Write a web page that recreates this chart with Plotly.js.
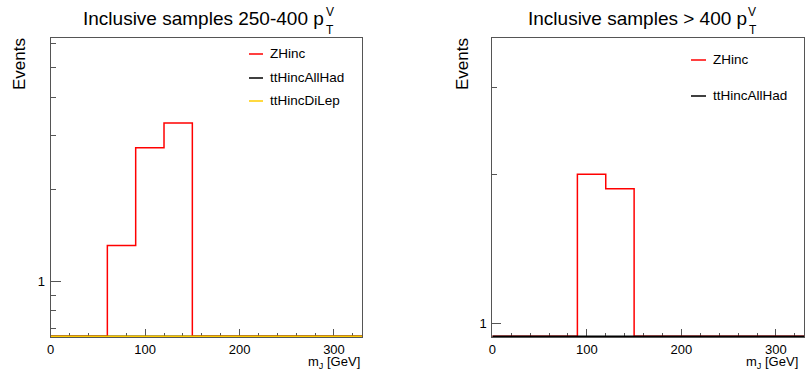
<!DOCTYPE html>
<html>
<head>
<meta charset="utf-8">
<script src="https://cdn.plot.ly/plotly-3.0.1.min.js"></script>
<style>html,body{margin:0;padding:0;background:#fff;}#chart{width:807px;height:376px;}</style>
</head>
<body>
<div id="chart"></div>
<script>
// ---- data ----
const binEdges = [0, 30, 60, 90, 120, 150, 180, 210, 240, 270, 300, 330];
const leftZHinc        = [0, 0, 1.31, 2.73, 3.29, 0, 0, 0, 0, 0, 0];
const leftTtHincAllHad = [0, 0, 0, 0, 0, 0, 0, 0, 0, 0, 0];
const leftTtHincDiLep  = [0, 0, 0, 0, 0, 0, 0, 0, 0, 0, 0];
const rightZHinc        = [0, 0, 0, 2.0, 1.87, 0, 0, 0, 0, 0, 0];
const rightTtHincAllHad = [0, 0, 0, 0, 0, 0, 0, 0, 0, 0, 0];
const leftNames  = ["ZHinc", "ttHincAllHad", "ttHincDiLep"];
const rightNames = ["ZHinc", "ttHincAllHad"];
const leftTitle  = "Inclusive samples 250-400 p";
const rightTitle = "Inclusive samples > 400 p";
const xTickVals = [0, 100, 200, 300];

// ---- style ----
const W = 807, H = 376;
const colors = {ZHinc: "#ff0000", ttHincAllHad: "#000000", ttHincDiLep: "#ffcc00"};
const font = "Liberation Sans, Arial, Helvetica, sans-serif";
const frameColor = "#555555";
const plotTop = 38.3, plotBottom = 337;
const leftRange = [-0.182, 0.794];
const rightRange = [-0.0283, 0.576];
const px = v => v / W, py = v => 1 - v / H;

// zero bins are drawn along the bottom edge of the frame (inside it)
function hist(counts, name, xa, ya, range) {
  const perPx = (range[1] - range[0]) / (plotBottom - plotTop);
  const floor = Math.pow(10, range[0] + 0.8 * perPx);
  const y = counts.map(v => v > 0 ? v : floor);
  y.push(y[y.length - 1]);
  return {x: binEdges, y: y, type: "scatter", mode: "lines", name: name,
    line: {shape: "hv", color: colors[name], width: 1.5},
    xaxis: xa, yaxis: ya, showlegend: false, hoverinfo: "skip"};
}

const traces = [
  hist(leftZHinc, "ZHinc", "x", "y", leftRange),
  hist(leftTtHincAllHad, "ttHincAllHad", "x", "y", leftRange),
  hist(leftTtHincDiLep, "ttHincDiLep", "x", "y", leftRange),
  hist(rightZHinc, "ZHinc", "x2", "y2", rightRange),
  hist(rightTtHincAllHad, "ttHincAllHad", "x2", "y2", rightRange)
];

function xax(domain, anchor) {
  return {domain: domain, anchor: anchor, range: [0, 330], type: "linear",
    showline: true, mirror: true, linecolor: frameColor, linewidth: 1,
    showgrid: false, zeroline: false, ticks: "inside", ticklen: 8, tickwidth: 1,
    tickcolor: frameColor, tickmode: "array", tickvals: xTickVals, ticktext: xTickVals.map(String),
    tickfont: {family: font, size: 13, color: "#000"}, ticklabelstandoff: 0,
    minor: {dtick: 20, tick0: 0, ticks: "inside", ticklen: 4, tickcolor: frameColor, showgrid: false},
    layer: "below traces", fixedrange: true};
}
function yax(domain, anchor, range, minorVals, len) {
  return {domain: domain, anchor: anchor, type: "log", range: range,
    showline: true, mirror: true, linecolor: frameColor, linewidth: 1,
    showgrid: false, zeroline: false, ticks: "inside", ticklen: len, tickwidth: 1,
    tickcolor: frameColor, tickmode: "array", tickvals: [1], ticktext: ["1"],
    tickfont: {family: font, size: 13, color: "#000"}, ticklabelstandoff: 2,
    minor: {tickmode: "array", tickvals: minorVals, ticks: "inside", ticklen: 5, tickcolor: frameColor, showgrid: false},
    layer: "below traces", fixedrange: true};
}

const yDom = [py(plotBottom), py(plotTop)];
const layout = {
  width: W, height: H, margin: {l: 0, r: 0, t: 0, b: 0},
  paper_bgcolor: "#fff", plot_bgcolor: "#fff", showlegend: false,
  xaxis: xax([px(50.7), px(362.3)], "y"),
  yaxis: yax(yDom, "x", leftRange, [0.7, 0.8, 0.9, 2, 3, 4, 5, 6], 10),
  xaxis2: xax([px(492.3), px(804.3)], "y2"),
  yaxis2: yax(yDom, "x2", rightRange, [2, 3], 9),
  annotations: [], shapes: []
};

function txt(text, x, y, size, xanchor, extra) {
  return Object.assign({text: text, x: px(x), y: py(y), xref: "paper", yref: "paper",
    showarrow: false, xanchor: xanchor, yanchor: "middle",
    font: {family: font, size: size, color: "#000"}}, extra || {});
}
// titles
layout.annotations.push(txt(leftTitle, 326, 19, 19, "right"));
layout.annotations.push(txt("V", 323.5, 12, 12, "left"));
layout.annotations.push(txt("T", 324, 29.5, 12, "left"));
layout.annotations.push(txt(rightTitle, 749, 19, 19, "right"));
layout.annotations.push(txt("V", 746, 12, 12, "left"));
layout.annotations.push(txt("T", 746.5, 29.5, 12, "left"));
// axis titles
layout.annotations.push(txt("Events", 19, 64, 17, "center", {textangle: -90}));
layout.annotations.push(txt("Events", 462, 64, 17, "center", {textangle: -90}));
layout.annotations.push(txt("m<sub>J</sub> [GeV]", 362, 362, 13, "right"));
layout.annotations.push(txt("m<sub>J</sub> [GeV]", 800, 362, 13, "right"));
// legends
function legend(names, x0, x1, tx, ys) {
  names.forEach((n, i) => {
    layout.shapes.push({type: "line", xref: "paper", yref: "paper",
      x0: px(x0), x1: px(x1), y0: py(ys[i]), y1: py(ys[i]),
      line: {color: colors[n], width: 1.5}});
    layout.annotations.push(txt(n, tx, ys[i], 13.5, "left"));
  });
}
legend(leftNames, 249, 263, 268, [54, 78, 101]);
legend(rightNames, 691, 706, 711, [60, 96]);

Plotly.newPlot("chart", traces, layout, {staticPlot: true, displayModeBar: false});
</script>
</body>
</html>
